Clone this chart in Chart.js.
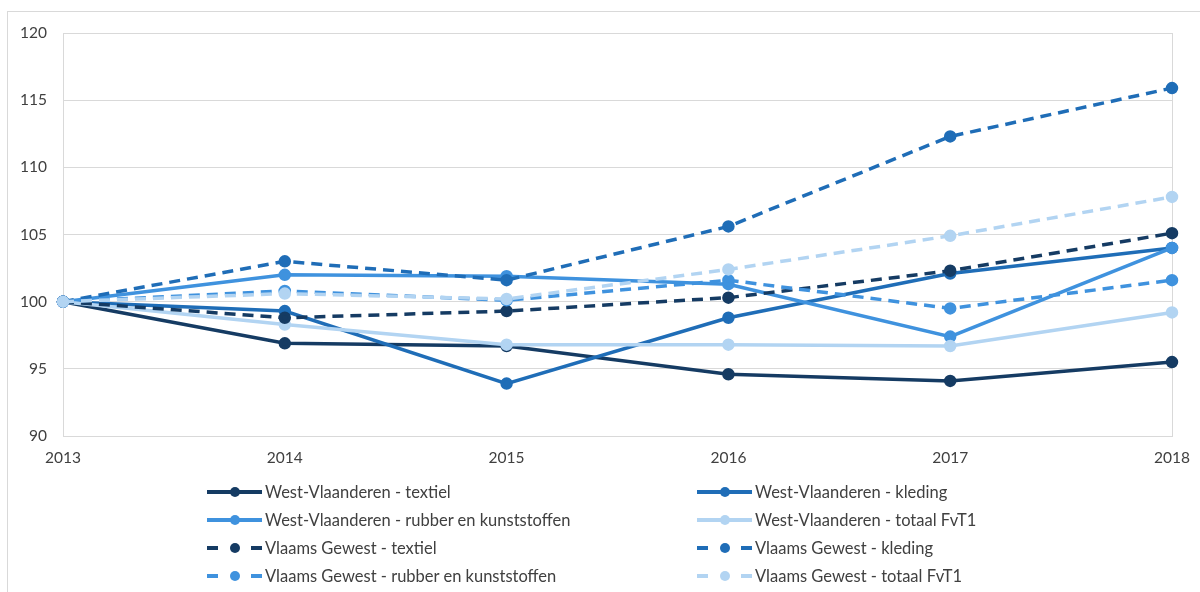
<!DOCTYPE html>
<html>
<head>
<meta charset="utf-8">
<script src="https://cdn.jsdelivr.net/npm/chart.js@4"></script>
<style>
  html, body { margin: 0; padding: 0; background: #fff; overflow: hidden; }
  #wrap { position: relative; width: 1200px; height: 592px; }
  #frame { position: absolute; left: 7px; top: 11px; width: 1300px; height: 700px; border: 1px solid #d9d9d9; }
  #chart { position: absolute; left: 0; top: 0; }
  #legend { position: absolute; left: 207px; top: 480px; display: grid; grid-template-columns: 490px 400px; row-gap: 5px;
            font-family: Lato, "Open Sans", sans-serif; font-size: 16.5px; color: #404040; }
  .item { display: flex; align-items: center; height: 23px; }
  .item svg { margin-right: 3px; }
</style>
</head>
<body>
<div id="wrap">
  <div id="frame"></div>
  <canvas id="chart" width="1200" height="592"></canvas>
  <div id="legend"></div>
</div>
<script>
// Years on the x axis
let years = ['2013', '2014', '2015', '2016', '2017', '2018'];

// Index values (2013 = 100)
let wvTextiel = [100, 96.9, 96.7, 94.6, 94.1, 95.5];
let wvKleding = [100, 99.3, 93.9, 98.8, 102.1, 104.0];
let wvRubber  = [100, 102.0, 101.9, 101.3, 97.4, 104.0];
let wvTotaal  = [100, 98.3, 96.8, 96.8, 96.7, 99.2];
let vgTextiel = [100, 98.8, 99.3, 100.3, 102.3, 105.1];
let vgKleding = [100, 103.0, 101.6, 105.6, 112.3, 115.9];
let vgRubber  = [100, 100.8, 100.1, 101.6, 99.5, 101.6];
let vgTotaal  = [100, 100.6, 100.2, 102.4, 104.9, 107.8];

let yTicks = [90, 95, 100, 105, 110, 115, 120];

let navy = '#153b63', mid = '#1f6db7', bright = '#3f92de', pale = '#b2d4f2';
let grey = '#d9d9d9';

function series(label, data, color, dashed) {
    return {
        label: label,
        data: data,
        borderColor: color,
        backgroundColor: color,
        pointBackgroundColor: color,
        pointBorderColor: color,
        borderWidth: 3.5,
        borderDash: dashed ? [11, 7] : [],
        pointRadius: 4.5,
        pointHoverRadius: 4.5,
        tension: 0,
        fill: false
    };
}

let datasets = [
    series('West-Vlaanderen - textiel', wvTextiel, navy, false),
    series('West-Vlaanderen - kleding', wvKleding, mid, false),
    series('West-Vlaanderen - rubber en kunststoffen', wvRubber, bright, false),
    series('West-Vlaanderen - totaal FvT1', wvTotaal, pale, false),
    series('Vlaams Gewest - textiel', vgTextiel, navy, true),
    series('Vlaams Gewest - kleding', vgKleding, mid, true),
    series('Vlaams Gewest - rubber en kunststoffen', vgRubber, bright, true),
    series('Vlaams Gewest - totaal FvT1', vgTotaal, pale, true)
];
// later series on top, like the original
datasets.forEach((d, i) => d.order = datasets.length - i);

let font = { family: 'Lato, "Open Sans", sans-serif', size: 15.5 };

new Chart(document.getElementById('chart'), {
    type: 'line',
    data: { labels: years, datasets: datasets },
    options: {
        responsive: false,
        animation: false,
        layout: { padding: { top: 33, right: 28, left: 0, bottom: 0 } },
        plugins: { legend: { display: false }, tooltip: { enabled: false } },
        scales: {
            x: {
                offset: false,
                grid: {
                    drawTicks: false,
                    color: ctx => (ctx.index === 0 || ctx.index === years.length - 1) ? grey : 'rgba(0,0,0,0)'
                },
                border: { color: grey },
                ticks: { font: font, color: '#404040', padding: 13, maxRotation: 0 },
                afterFit: s => { s.height = 156; s.paddingLeft = 0; s.paddingRight = 0; }
            },
            y: {
                min: 90, max: 120,
                afterBuildTicks: s => { s.ticks = yTicks.map(v => ({ value: v })); },
                grid: { drawTicks: false, color: grey },
                border: { color: grey },
                ticks: { font: font, color: '#404040', padding: 16 },
                afterFit: s => { s.width = 63; }
            }
        }
    }
});

// Two-column legend built from the datasets
let legend = document.getElementById('legend');
datasets.forEach(d => {
    let dashed = d.borderDash.length > 0;
    let line = dashed
        ? `<line x1="0" y1="7" x2="11" y2="7"/><line x1="44" y1="7" x2="55" y2="7"/>`
        : `<line x1="0" y1="7" x2="55" y2="7"/>`;
    let item = document.createElement('div');
    item.className = 'item';
    item.innerHTML = `<svg width="55" height="14"><g stroke="${d.borderColor}" stroke-width="4">${line}</g>` +
        `<circle cx="28" cy="7" r="5" fill="${d.borderColor}"/></svg><span>${d.label}</span>`;
    legend.appendChild(item);
});
</script>
</body>
</html>
